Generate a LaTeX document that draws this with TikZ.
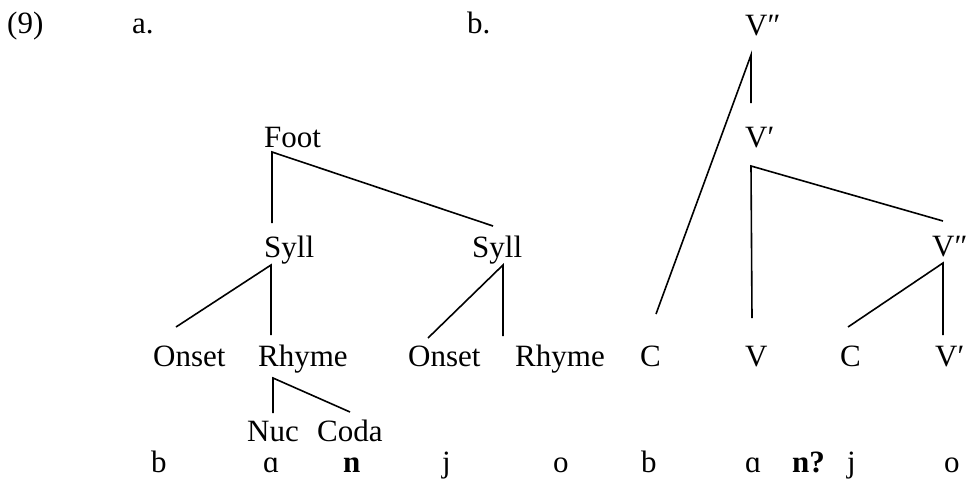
\documentclass[tikz,border=0pt]{standalone}
\usepackage{fontspec}
\setmainfont{Liberation Serif}
\usetikzlibrary{positioning}
\tikzset{
  lab/.style={anchor=base west, inner sep=0pt, font=\fontsize{31pt}{37pt}\selectfont},
  branch/.style={draw=black, line width=1.6pt},
}
\begin{document}
\begin{tikzpicture}[x=1pt, y=-1pt]
    \useasboundingbox (0,0) rectangle (969,485);

    % headings
    \node[lab] (ex) at (7,33) {(9)};
    \node[lab] (la) at (132,33) {a.};
    \node[lab] (lb) at (467,33) {b.};

    % tree a
    \node[lab] (foot)   at (264,147) {Foot};
    \node[lab] (sylla)  at (264,257) {Syll};
    \node[lab] (syllb)  at (472,257) {Syll};
    \node[lab] (onseta) at (153,366) {Onset};
    \node[lab] (rhymea) at (258,366) {Rhyme};
    \node[lab] (onsetb) at (408,366) {Onset};
    \node[lab] (rhymeb) at (515,366) {Rhyme};
    \node[lab] (nuc)    at (247,441) {Nuc};
    \node[lab] (coda)   at (317,441) {Coda};

    % tree b
    \node[lab] (vtop)   at (745,35)  {V″};
    \node[lab] (vbar)   at (745,147) {V′};
    \node[lab] (vbarb)  at (932,256) {V″};
    \node[lab] (ca)     at (640,366) {C};
    \node[lab] (va)     at (745,366) {V};
    \node[lab] (cb)     at (840,366) {C};
    \node[lab] (vprime) at (935,366) {V′};

    % segments
    \node[lab] (sa1) at (151,472) {b};
    \node[lab] (sa2) at (263,472) {ɑ};
    \node[lab] (sa3) at (343,472) {\textbf{n}};
    \node[lab] (sa4) at (442,472) {j};
    \node[lab] (sa5) at (553,472) {o};
    \node[lab] (sb1) at (641,472) {b};
    \node[lab] (sb2) at (745,472) {ɑ};
    \node[lab] (sb3) at (792,472) {\textbf{n?}};
    \node[lab] (sb4) at (847,472) {j};
    \node[lab] (sb5) at (944,472) {o};

    \draw[branch] ([shift={(8,-34)}]sylla.base west) -- ([shift={(8,5)}]foot.base west)
        -- ([shift={(21,-31)}]syllb.base west);
    \draw[branch] ([shift={(23,-39)}]onseta.base west) -- ([shift={(7,8)}]sylla.base west)
        -- ([shift={(13,-31)}]rhymea.base west);
    \draw[branch] ([shift={(20,-28)}]onsetb.base west) -- ([shift={(31,8)}]syllb.base west)
        -- ([shift={(-12,-30)}]rhymeb.base west);
    \draw[branch] ([shift={(26,-28)}]nuc.base west) -- ([shift={(15,12)}]rhymea.base west)
        -- ([shift={(33,-29)}]coda.base west);

    \draw[branch] ([shift={(16,-52)}]ca.base west) -- ([shift={(6,20)}]vtop.base west)
        -- ([shift={(6,-44)}]vbar.base west);
    \draw[branch] ([shift={(7,-48)}]va.base west) -- ([shift={(6,19)}]vbar.base west)
        -- ([shift={(11,-35)}]vbarb.base west);
    \draw[branch] ([shift={(8,-39)}]cb.base west) -- ([shift={(11,7)}]vbarb.base west)
        -- ([shift={(8,-31)}]vprime.base west);
\end{tikzpicture}
\end{document}
